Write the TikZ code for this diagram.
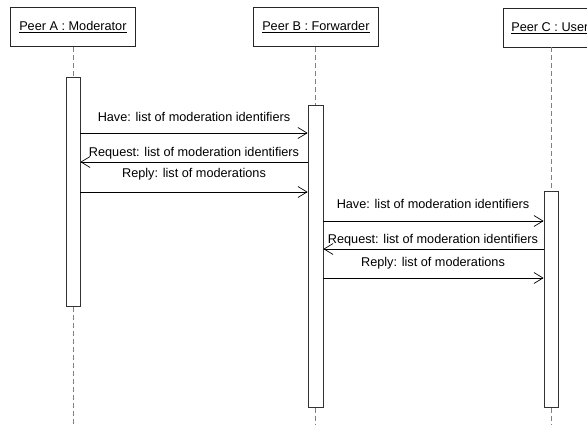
\documentclass[tikz,border=0pt]{standalone}
\usepackage{fontspec}
\setmainfont{Liberation Sans}
\usetikzlibrary{arrows.meta}
\begin{document}
\begin{tikzpicture}[x=1pt,y=-1pt,
  font=\fontsize{12.7}{15}\selectfont,
  head/.style={draw=black!85, fill=white, line width=0.8pt, minimum height=39pt, anchor=north west, inner ysep=0pt},
  life/.style={draw=gray, dash pattern=on 5pt off 3pt, line width=0.8pt},
  act/.style={draw=black!80, fill=white, line width=0.8pt, inner sep=0pt, anchor=north},
  msg/.style={draw=black, line width=0.7pt, -{Straight Barb[length=9pt,width=11pt]}},
  lbl/.style={inner sep=0pt, anchor=base}]
\useasboundingbox (0,0) rectangle (587,424);
\clip (0,0) rectangle (587,424);
% heads
\node[head, minimum width=125pt] (hA) at (10,7) {\underline{Peer A : Moderator}};
\node[head, minimum width=125pt] (hB) at (253,7) {\underline{Peer B : Forwarder}};
\node[head, inner xsep=8pt, minimum width=125pt, align=left] (hC) at (503,8) {\underline{Peer C : User}\hspace{40pt}};
% activations
\node[act, minimum width=14pt, minimum height=229pt] (aA) at (73,77) {};
\node[act, minimum width=15pt, minimum height=302pt] (aB) at (315.5,105) {};
\node[act, minimum width=14pt, minimum height=216pt] (aC) at (551,191) {};
% lifeline ends
\coordinate (eA) at (73,424);
\coordinate (eB) at (315.5,424);
\coordinate (eC) at (551,424);
\coordinate (sC) at (551,47);
% lifelines
\draw[life] (aA.north |- hA.south) -- (aA.north);
\draw[life] (aA.south) -- (eA);
\draw[life] (aB.north |- hB.south) -- (aB.north);
\draw[life] (aB.south) -- (eB);
\draw[life] (sC) -- (aC.north);
\draw[life] (aC.south) -- (eC);
% messages A <-> B
\draw[msg] (aA.east |- 0,133) -- (aB.west |- 0,133);
\node[lbl] (m1) at (194,121) {Have: list of moderation identifiers};
\draw[msg] (aB.west |- 0,162) -- (aA.east |- 0,162);
\node[lbl] (m2) at (194,156) {Request: list of moderation identifiers};
\draw[msg] (aA.east |- 0,192) -- (aB.west |- 0,192);
\node[lbl] (m3) at (194,177) {Reply: list of moderations};
% messages B <-> C
\draw[msg] (aB.east |- 0,221) -- (aC.west |- 0,221);
\node[lbl] (m4) at (433,208) {Have: list of moderation identifiers};
\draw[msg] (aC.west |- 0,249) -- (aB.east |- 0,249);
\node[lbl] (m5) at (433,243) {Request: list of moderation identifiers};
\draw[msg] (aB.east |- 0,278) -- (aC.west |- 0,278);
\node[lbl] (m6) at (433,266) {Reply: list of moderations};
\end{tikzpicture}
\end{document}
